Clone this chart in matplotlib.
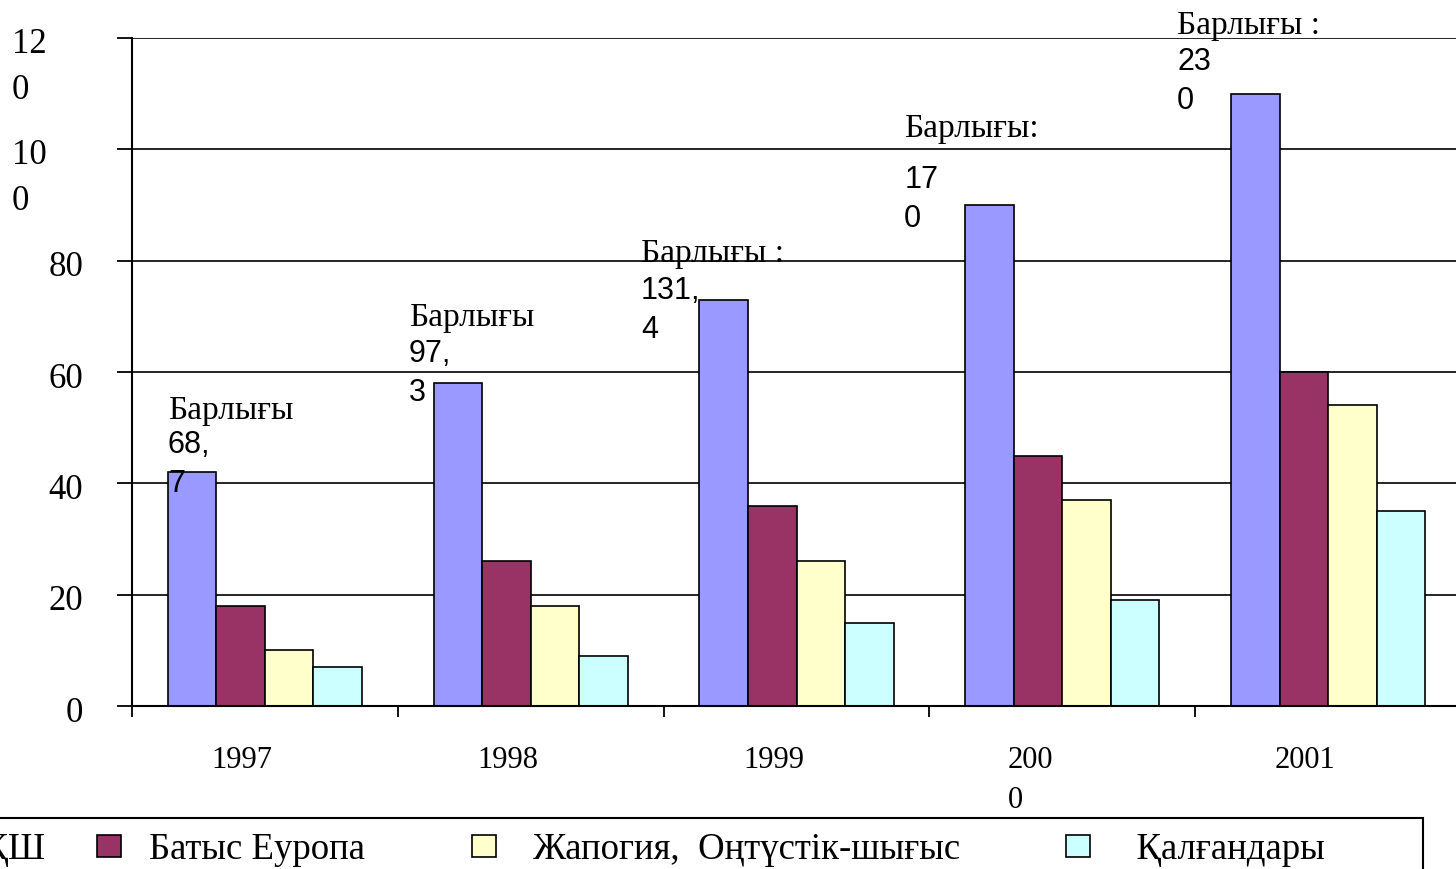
import matplotlib
matplotlib.use("Agg")
import matplotlib.pyplot as plt
import matplotlib.transforms as mtransforms
from matplotlib.patches import Patch
import numpy as np

# ---- data ----
years = ["1997", "1998", "1999", "2000", "2001"]
year_labels = ["1997", "1998", "1999", "200\n0", "2001"]
series_names = ["АҚШ", "Батыс Еуропа", "Жапогия,  Оңтүстік-шығыс", "Қалғандары"]
usa = [42, 58, 73, 90, 110]
west_europe = [18, 26, 36, 45, 60]
japan_se = [10, 18, 26, 37, 54]
others = [7, 9, 15, 19, 35]
yticks = [0, 20, 40, 60, 80, 100, 120]
ytick_labels = ["0", "20", "40", "60", "80", "10\n0", "12\n0"]
total_words = ["Барлығы", "Барлығы", "Барлығы :", "Барлығы:", "Барлығы :"]
total_values = ["68,\n7", "97,\n3", "131,\n4", "17\n0", "23\n0"]

# annotation anchor positions (data coords)
note_x = [-0.365, 0.542, 1.415, 2.405, 3.432]
note_word_y = [53.7, 70.4, 81.9, 104.4, 122.9]
note_num_top = [49.5, 66.0, 77.3, 97.1, 118.3]

colors = ["#9999FF", "#993366", "#FFFFCC", "#CCFFFF"]
SERIF = ["Liberation Serif", "DejaVu Serif"]
SANS = ["Liberation Sans", "DejaVu Sans"]

fig = plt.figure(figsize=(14.56, 8.69), dpi=100)
ax = fig.add_axes([132 / 1456, 1 - 706 / 869, 1329 / 1456, 668 / 869])

x = np.arange(len(years))
w = 0.1825
all_series = [usa, west_europe, japan_se, others]
for j, vals in enumerate(all_series):
    ax.bar(x + (j - 1.5) * w, vals, w, color=colors[j], edgecolor="black",
           linewidth=1.2, zorder=3, label=series_names[j])

ax.set_xlim(-0.5, len(years) - 0.5)
ax.set_ylim(0, 120)
ax.set_yticks(yticks)
ax.set_yticklabels([])
ax.set_xticks(np.arange(len(years) + 1) - 0.5)
ax.set_xticklabels([])
ax.tick_params(axis="y", direction="out", length=10.5, width=1.3, color="black")
ax.tick_params(axis="x", direction="out", length=8, width=1.3, color="black")
ax.grid(axis="y", color="black", linewidth=1.2, zorder=1)
ax.set_axisbelow(True)
for s in ["top", "right"]:
    ax.spines[s].set_visible(False)
for s in ["left", "bottom"]:
    ax.spines[s].set_linewidth(1.5)
    ax.spines[s].set_zorder(4)

# y tick labels
ytr = ax.get_yaxis_transform()
for v, lab in zip(yticks, ytick_labels):
    if "\n" in lab:
        t = mtransforms.offset_copy(ytr, fig=fig, x=-120, y=10, units="dots")
        ax.text(0, v, lab, transform=t, ha="left", va="top",
                fontsize=25, family=SERIF, linespacing=1.52, multialignment="left")
    else:
        t = mtransforms.offset_copy(ytr, fig=fig, x=-49, y=-3, units="dots")
        ax.text(0, v, lab, transform=t, ha="right", va="center_baseline",
                fontsize=25, family=SERIF)

# x labels
xtr = ax.get_xaxis_transform()
for i, lab in enumerate(year_labels):
    t = mtransforms.offset_copy(xtr, fig=fig, x=0, y=-40, units="dots")
    if "\n" in lab:
        ax.text(i - 0.204, 0, lab, transform=t, ha="left", va="top",
                fontsize=22, family=SERIF, linespacing=1.5, multialignment="left")
    else:
        ax.text(i - 0.087, 0, lab, transform=t, ha="center", va="top",
                fontsize=22, family=SERIF)

# total annotations
for i in range(len(years)):
    ax.text(note_x[i], note_word_y[i], total_words[i], ha="left",
            va="center_baseline", fontsize=24, family=SERIF, zorder=5)
    ax.text(note_x[i], note_num_top[i], total_values[i], ha="left",
            va="top", fontsize=22, family=SANS, linespacing=1.39,
            multialignment="left", zorder=5)

# legend (spaces reproduce the uneven entry spacing of the original)
handles = [Patch(facecolor=c, edgecolor="black", linewidth=1.2) for c in colors]
leg_labels = [series_names[0],
              series_names[1] + " " * 6,
              " " + series_names[2] + " " * 6,
              "  " + series_names[3] + " " * 9]
leg = fig.legend(handles, leg_labels, loc="upper right", ncol=4,
                 bbox_to_anchor=(1423 / 1456, 1 - 818 / 869),
                 prop={"family": SERIF, "size": 26.5}, frameon=True,
                 fancybox=False, framealpha=1, edgecolor="black",
                 handlelength=0.65, handleheight=0.54, handletextpad=0.76,
                 columnspacing=1.39, borderpad=0.4, borderaxespad=0)
leg.get_frame().set_linewidth(1.5)

fig.savefig("out.png", dpi=100)
